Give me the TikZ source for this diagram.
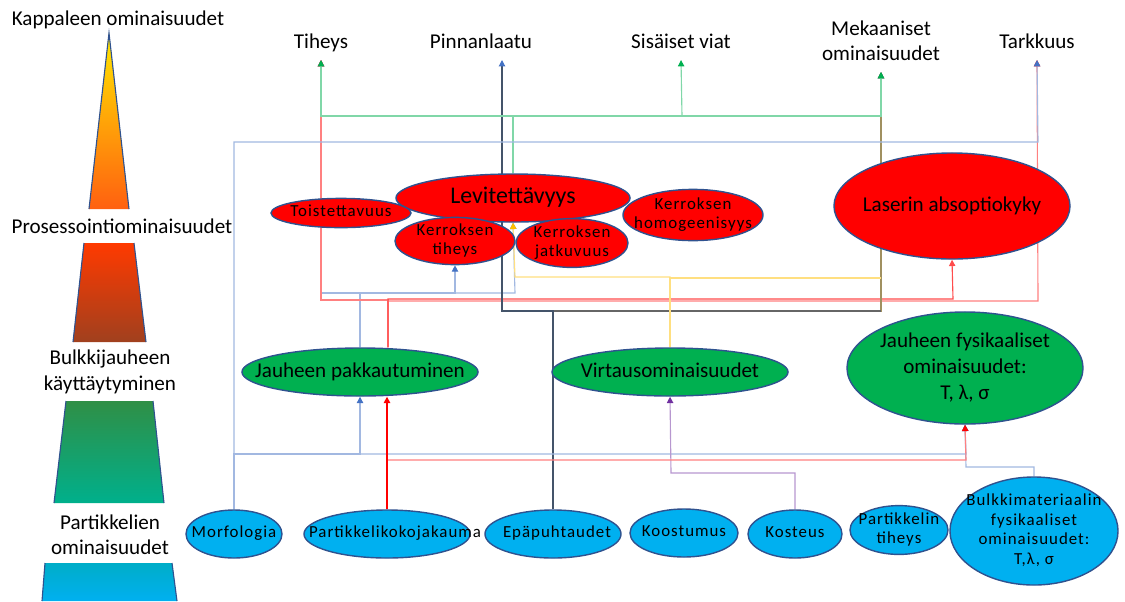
\documentclass[tikz,border=0pt]{standalone}
\usepackage{fontspec}
\setmainfont{Carlito}
\newfontfamily\spaced[LetterSpace=6]{Carlito}
\usetikzlibrary{shapes.geometric,arrows.meta}

\definecolor{eline}{HTML}{2F528F}
\definecolor{pgreen}{HTML}{00B050}
\definecolor{pcyan}{HTML}{00B0F0}
\definecolor{cblue}{HTML}{4472C4}
\definecolor{corange}{HTML}{FFC000}
\definecolor{cpurple}{HTML}{7030A0}
\definecolor{cdark}{HTML}{404040}
\definecolor{cslate}{HTML}{44546A}
\definecolor{colive}{HTML}{A09060}

% text that may stick out of its ellipse
\newcommand{\fitin}[1]{\makebox[0pt]{\smash{\raisebox{-0.25em}{\begin{tabular}{@{}c@{}}#1\end{tabular}}}}}

\pgfdeclarelayer{bg}
\pgfsetlayers{bg,main}

\begin{document}
\begin{tikzpicture}[x=0.025cm, y=-0.025cm,
    ell/.style={ellipse, draw=eline, line width=1pt, inner sep=0pt},
    redell/.style={ell, fill=red},
    grnell/.style={ell, fill=pgreen},
    cyanell/.style={ell, fill=pcyan},
    bigtxt/.style={font=\fontsize{15}{18}\selectfont},
    smalltxt/.style={font=\spaced\fontsize{12}{14}\selectfont},
    toplabel/.style={bigtxt, align=center, anchor=south, text depth=0.25em,
      inner xsep=2pt, inner ysep=5.5pt},
    sidelabel/.style={bigtxt, align=center, inner sep=0pt},
    pyr/.style={draw=eline, line width=0.8pt},
    conn/.style={line width=0.8pt, draw=#1!50, -{Triangle[length=4.5pt,width=4.5pt,color=#1]}},
    strong/.style={line width=0.8pt, draw=#1, -{Triangle[length=4.5pt,width=4.5pt]}}
    ]
    \useasboundingbox (0,0) rectangle (1125,601);

    % left column
    \shade[top color={rgb,255:red,255;green,232;blue,0}, bottom color={rgb,255:red,255;green,96;blue,16}]
      (109,33) -- (129,209) -- (89,209) -- cycle;
    \draw[pyr] (89,209) -- (109,33) -- (129,209);
    \shade[top color={rgb,255:red,255;green,58;blue,0}, middle color=red, bottom color={rgb,255:red,160;green,64;blue,30}]
      (84,243) -- (134,243) -- (146,342) -- (73,342) -- cycle;
    \draw[pyr] (84,243) -- (73,342) (134,243) -- (146,342);
    \shade[top color={rgb,255:red,47;green,143;blue,70}, middle color=pgreen, bottom color={rgb,255:red,0;green,176;blue,140}]
      (66,401) -- (153,401) -- (164,503) -- (54,503) -- cycle;
    \draw[pyr] (66,401) -- (54,503) (153,401) -- (164,503);
    \shade[top color={rgb,255:red,0;green,173;blue,200}, bottom color=pcyan]
      (45,563) -- (172,563) -- (177,601) -- (42,601) -- cycle;
    \draw[pyr] (45,563) -- (42,601) (172,563) -- (177,601);

    \node[sidelabel] (kapp) at (118,20) {Kappaleen ominaisuudet};
    \node[sidelabel] (pros) at (122,226) {Prosessointiominaisuudet};
    \node[sidelabel] (bulkl) at (110,372) {Bulkkijauheen\\käyttäytyminen};
    \node[sidelabel] (partl) at (110,535) {Partikkelien\\ominaisuudet};

    % top row
    \node[toplabel] (tih) at (321,60) {Tiheys};
    \node[toplabel] (pinn) at (481,60) {Pinnanlaatu};
    \node[toplabel] (sis) at (681,60) {Sisäiset viat};
    \node[toplabel] (mek) at (881,72) {Mekaaniset\\ominaisuudet};
    \node[toplabel] (tark) at (1037,60) {Tarkkuus};

    % process properties
    \node[redell, minimum width=5.85cm, minimum height=1.2cm,
      font=\fontsize{17}{20}\selectfont] (lev) at (513,198) {\fitin{Levitettävyys}};
    \node[redell, smalltxt, minimum width=3.5cm, minimum height=0.73cm] (toist) at (341,213) {\fitin{Toistettavuus}};
    \node[redell, smalltxt, minimum width=3cm, minimum height=1.18cm] (ktih) at (455,241) {\fitin{Kerroksen\\tiheys}};
    \node[redell, smalltxt, minimum width=2.8cm, minimum height=1.22cm] (kjat) at (572,243) {\fitin{Kerroksen\\jatkuvuus}};
    \node[redell, smalltxt, minimum width=3.5cm, minimum height=1.28cm] (khom) at (693,215) {\fitin{Kerroksen\\homogeenisyys}};
    \node[redell, bigtxt, minimum width=5.9cm, minimum height=2.65cm] (laser) at (952,206) {\fitin{Laserin absoptiokyky}};

    % bulk powder behaviour
    \node[grnell, bigtxt, minimum width=5.9cm, minimum height=1.2cm] (pakk) at (360,372) {\fitin{Jauheen pakkautuminen}};
    \node[grnell, bigtxt, minimum width=5.9cm, minimum height=1.2cm] (virt) at (670,372) {\fitin{Virtausominaisuudet}};
    \node[grnell, font=\fontsize{15}{18.5}\selectfont, minimum width=5.9cm, minimum height=2.8cm] (jfys) at (965,368)
      {\fitin{Jauheen fysikaaliset\\ominaisuudet:\\T, λ, σ}};

    % particle properties
    \node[cyanell, smalltxt, minimum width=2.4cm, minimum height=1.2cm] (morf) at (234,534) {\fitin{Morfologia}};
    \node[cyanell, smalltxt, minimum width=4.15cm, minimum height=1.2cm] (pkoko) at (387,534) {\fitin{\hspace{0.4cm}Partikkelikokojakauma}};
    \node[cyanell, smalltxt, minimum width=3.4cm, minimum height=1.2cm] (epap) at (553,534) {\fitin{\hspace{0.2cm}Epäpuhtaudet}};
    \node[cyanell, smalltxt, minimum width=2.7cm, minimum height=1.2cm] (koost) at (684,533) {\fitin{Koostumus}};
    \node[cyanell, smalltxt, minimum width=2.35cm, minimum height=1.2cm] (kost) at (795,534) {\fitin{Kosteus}};
    \node[cyanell, smalltxt, minimum width=2.45cm, minimum height=1.22cm] (ptih) at (899,530) {\fitin{Partikkelin\\tiheys}};
    \node[cyanell, smalltxt, minimum width=4.2cm, minimum height=2.7cm] (bulk) at (1034,531)
      {\fitin{Bulkkimateriaalin\\fysikaaliset\\ominaisuudet:\\T,λ, σ}};

    \begin{pgfonlayer}{bg}
    % Jauheen pakkautuminen
    \draw[conn=cblue] (pakk.north) |- (321,293) -- (tih.south);
    \draw[conn=cblue] (pakk.north) |- (515,293) -- (lev.south);
    \draw[conn=cblue] (pakk.north) |- (455,293) -- (ktih.south);
    \draw[conn=red] ([xshift=0.7cm]pakk.north) |- (321,300) -- (tih.south);
    \draw[conn=red] ([xshift=0.7cm]pakk.north) |- (1038,301) -- (tark.south);
    \draw[strong=red!70] ([xshift=0.7cm]pakk.north) |- (953,299) -- (laser.south);
    % Epäpuhtaudet
    \draw[line width=0.8pt, draw=colive, -{Triangle[length=4.5pt,width=4.5pt,color=black]}]
      (epap.north) |- (881,311) -- (mek.south);
    \draw[line width=0.8pt, draw=cdark!80] (epap.north) |- (881,311);
    \draw[line width=0.8pt, draw=cslate, -{Triangle[length=4.5pt,width=4.5pt,color=cblue]}]
      (epap.north) |- (502,311) -- (502,311 |- pinn.south);
    % Virtausominaisuudet
    \draw[conn=corange] (virt.north) |- (515,277) -- (lev.south);
    \draw[line width=0.8pt, draw=corange!50] (virt.north) |- (881,278);
    % Levitettävyys
    \draw[line width=0.8pt, draw=pgreen] (lev.north) -- (lev.north |- 0,116);
    \draw[conn=pgreen] (lev.north) |- (321,116) -- (tih.south);
    \draw[conn=pgreen] (lev.north) |- (682,116) -- (sis.south);
    \draw[conn=pgreen] (lev.north) |- (881,116) -- (mek.south);
    % Morfologia
    \draw[conn=cblue] (morf.north) |- (1038,142) -- (tark.south);
    \draw[conn=cblue] (morf.north) |- (360,454) -- (pakk.south);
    \draw[conn=cblue] (morf.north) |- (966,454) -- (jfys.south);
    % Kosteus
    \draw[conn=cpurple] (kost.north) |- (671,473) -- (virt.south);
    % Bulkkimateriaalin ominaisuudet
    \draw[conn=cblue] (bulk.north) |- (966,467) -- (jfys.south);
    % Partikkelikokojakauma
    \draw[conn=red] (pkoko.north) |- (966,460) -- (jfys.south);
    \draw[strong=red, line width=1.3pt] (pkoko.north) -- (pkoko.north |- pakk.south);
    \end{pgfonlayer}
\end{tikzpicture}
\end{document}
